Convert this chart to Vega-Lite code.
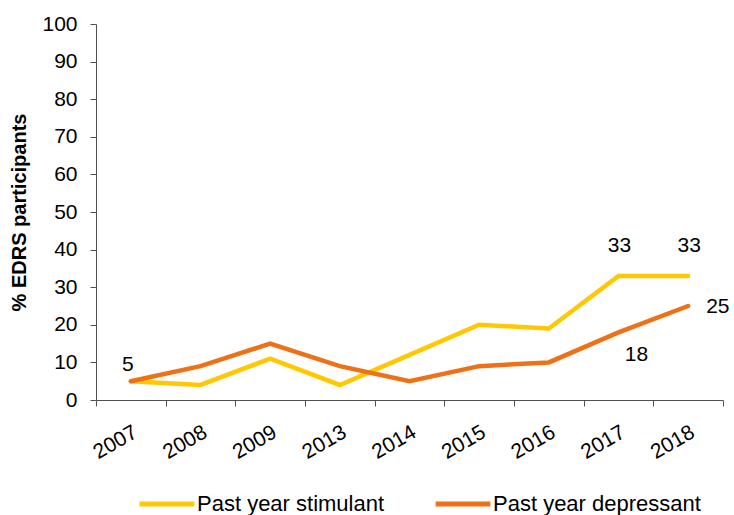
{
  "$schema": "https://vega.github.io/schema/vega-lite/v6.json",
  "width": 627,
  "height": 376,
  "autosize": {"type": "none"},
  "padding": {"left": 96, "top": 24, "right": 11, "bottom": 115},
  "background": "white",
  "config": {
    "view": {"stroke": null},
    "font": "Liberation Sans",
    "axis": {"labelFont": "Liberation Sans", "titleFont": "Liberation Sans", "labelColor": "black", "titleColor": "black"}
  },
  "data": {
    "values": [
      {"year": "2007", "series": "Past year stimulant", "value": 5},
      {"year": "2008", "series": "Past year stimulant", "value": 4},
      {"year": "2009", "series": "Past year stimulant", "value": 11},
      {"year": "2013", "series": "Past year stimulant", "value": 4},
      {"year": "2014", "series": "Past year stimulant", "value": 12},
      {"year": "2015", "series": "Past year stimulant", "value": 20},
      {"year": "2016", "series": "Past year stimulant", "value": 19},
      {"year": "2017", "series": "Past year stimulant", "value": 33},
      {"year": "2018", "series": "Past year stimulant", "value": 33},
      {"year": "2007", "series": "Past year depressant", "value": 5},
      {"year": "2008", "series": "Past year depressant", "value": 9},
      {"year": "2009", "series": "Past year depressant", "value": 15},
      {"year": "2013", "series": "Past year depressant", "value": 9},
      {"year": "2014", "series": "Past year depressant", "value": 5},
      {"year": "2015", "series": "Past year depressant", "value": 9},
      {"year": "2016", "series": "Past year depressant", "value": 10},
      {"year": "2017", "series": "Past year depressant", "value": 18},
      {"year": "2018", "series": "Past year depressant", "value": 25}
    ]
  },
  "encoding": {
    "x": {
      "field": "year", "type": "ordinal",
      "scale": {"type": "band", "paddingInner": 0, "paddingOuter": 0},
      "axis": {
        "title": null,
        "labelAngle": -30,
        "labelFontSize": 21,
        "labelAlign": "right",
        "labelBaseline": "top",
        "labelPadding": 15,
        "labelOffset": -1,
        "tickBand": "extent",
        "tickSize": 6,
        "tickColor": "#505050",
        "domainColor": "#505050"
      }
    },
    "y": {
      "field": "value", "type": "quantitative",
      "scale": {"domain": [0, 100]},
      "axis": {
        "values": [0, 10, 20, 30, 40, 50, 60, 70, 80, 90, 100],
        "grid": false,
        "title": "% EDRS participants",
        "titleFontSize": 20,
        "titleFontWeight": "bold",
        "titlePadding": 12,
        "labelFontSize": 21,
        "labelPadding": 13,
        "tickSize": 6,
        "domainColor": "#505050",
        "tickColor": "#505050"
      }
    }
  },
  "layer": [
    {
      "mark": {"type": "line", "strokeWidth": 4.5, "strokeCap": "round", "strokeJoin": "miter"},
      "encoding": {
        "color": {
          "field": "series", "type": "nominal",
          "scale": {"domain": ["Past year stimulant", "Past year depressant"], "range": ["#FFC800", "#EE7118"]},
          "legend": {
            "title": null,
            "orient": "none",
            "direction": "horizontal",
            "legendX": 41,
            "legendY": 450,
            "symbolType": "stroke",
            "symbolSize": 3000,
            "symbolStrokeWidth": 5,
            "labelFontSize": 22,
            "labelFont": "Liberation Sans",
            "labelColor": "black",
            "columnPadding": 40,
            "labelOffset": 0,
            "labelLimit": 300
          }
        }
      }
    },
    {
      "transform": [{"filter": "datum.series == 'Past year depressant' && datum.year == '2007'"}],
      "mark": {"type": "text", "fontSize": 21, "dx": -3, "dy": -16, "color": "black"},
      "encoding": {"text": {"field": "value"}}
    },
    {
      "transform": [{"filter": "datum.series == 'Past year stimulant' && (datum.year == '2017' || datum.year == '2018')"}],
      "mark": {"type": "text", "fontSize": 21, "dx": 1, "dy": -30, "color": "black"},
      "encoding": {"text": {"field": "value"}}
    },
    {
      "transform": [{"filter": "datum.series == 'Past year depressant' && datum.year == '2018'"}],
      "mark": {"type": "text", "fontSize": 21, "dx": 18, "align": "left", "dy": 1, "color": "black"},
      "encoding": {"text": {"field": "value"}}
    },
    {
      "transform": [{"filter": "datum.series == 'Past year depressant' && datum.year == '2017'"}],
      "mark": {"type": "text", "fontSize": 21, "dx": 18, "dy": 23, "color": "black"},
      "encoding": {"text": {"field": "value"}}
    }
  ]
}
